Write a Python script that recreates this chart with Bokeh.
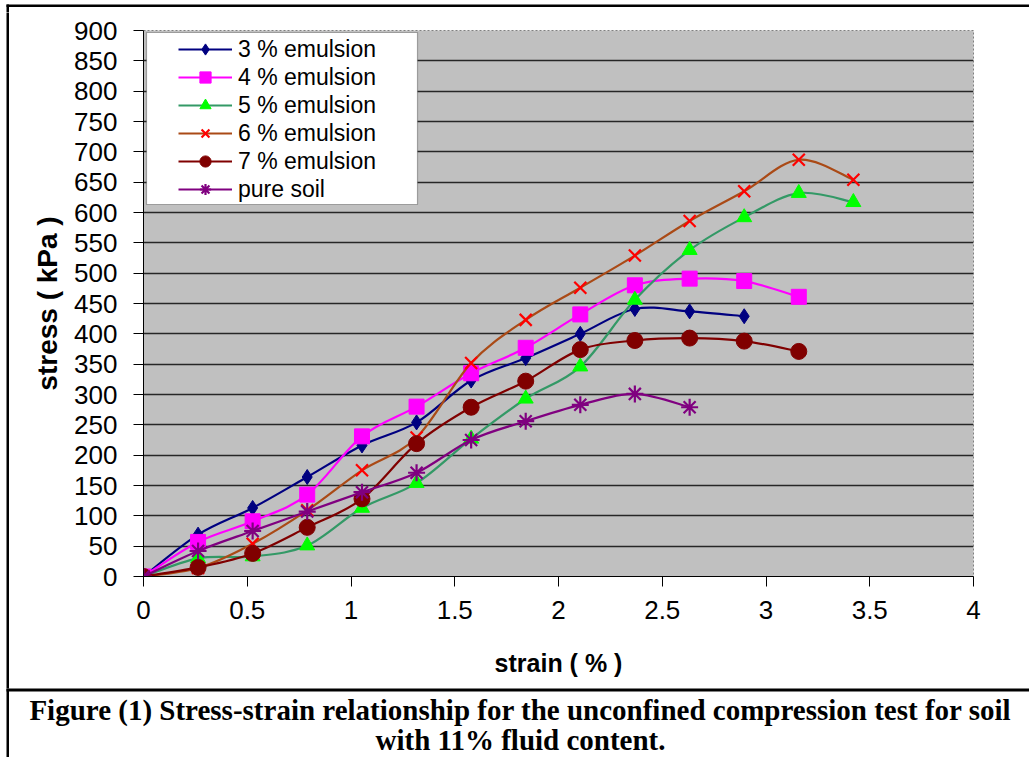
import numpy as np
from bokeh.plotting import figure
from bokeh.layouts import column, row
from bokeh.models import (Legend, LegendItem, BoxAnnotation, Label, FixedTicker,
                          ColumnDataSource)
from bokeh.embed import file_html
from bokeh.resources import INLINE

# ---------------- data ----------------
strain = [0, 0.263, 0.526, 0.789, 1.053, 1.316, 1.579, 1.842, 2.105, 2.368,
          2.632, 2.895, 3.158, 3.421]

emul3 = [0, 69, 113, 164, 216, 254, 323, 360, 400, 441, 437, 429]
emul4 = [0, 57, 91, 135, 231, 280, 335, 377, 432, 480, 491, 487, 461]
emul5 = [0, 30, 33, 51, 113, 154, 227, 293, 346, 456, 538, 592, 632, 617]
emul6 = [0, 14, 54, 109, 175, 229, 352, 423, 476, 529, 586, 635, 687, 654]
emul7 = [0, 15, 38, 81, 128, 219, 279, 322, 374, 389, 393, 388, 371]
pure_soil = [0, 42, 75, 107, 139, 171, 225, 256, 283, 301, 279]

series_names = ["3 % emulsion", "4 % emulsion", "5 % emulsion",
                "6 % emulsion", "7 % emulsion", "pure soil"]
series_values = [emul3, emul4, emul5, emul6, emul7, pure_soil]

x_ticks = [0, 0.5, 1, 1.5, 2, 2.5, 3, 3.5, 4]
x_tick_labels = ["0", "0.5", "1", "1.5", "2", "2.5", "3", "3.5", "4"]
y_ticks = list(range(0, 901, 50))

caption_lines = ["Figure (1) Stress-strain relationship for the unconfined compression test for soil",
                 "with 11% fluid content."]

# ---------------- styles ----------------
line_colors = ["#000080", "#FF00FF", "#339966", "#AA4A16", "#800000", "#800080"]
marker_fill = ["#000080", "#FF00FF", "#00FF00", "#FF0000", "#800000", "#800080"]
markers = ["diamond", "square", "triangle", "x", "circle", "asterisk"]
marker_sizes = [15, 15, 15, 17, 16, 17]

FONT = "Liberation Sans"


def blank_fig(w, h):
    f = figure(width=w, height=h, output_backend="svg", toolbar_location=None,
               x_axis_location=None, y_axis_location=None,
               min_border=0, min_border_left=0, min_border_right=0,
               min_border_top=0, min_border_bottom=0, frame_align=False)
    f.title.visible = False
    f.grid.visible = False
    f.outline_line_color = None
    f.background_fill_color = "white"
    f.border_fill_color = "white"
    return f


def black_box(left, right, bottom, top):
    return BoxAnnotation(left=left, right=right, bottom=bottom, top=top,
                         left_units="screen", right_units="screen",
                         top_units="screen", bottom_units="screen",
                         fill_color="black", fill_alpha=1, line_color=None)


TOP_H = 12
CAP_H = 69
CHART_H = 757 - TOP_H - CAP_H

# top border strip
top_fig = blank_fig(1029, TOP_H)
top_fig.add_layout(black_box(6, 1100, TOP_H - 6.5, TOP_H - 4))
top_fig.add_layout(black_box(6, 8.5, -1, TOP_H - 4))

# left border strip
left_fig = blank_fig(9, CHART_H)
left_fig.add_layout(black_box(6, 8.5, -1, CHART_H + 5))

# ---------------- main chart ----------------
p = figure(width=1020, height=CHART_H, x_range=(0, 4), y_range=(0, 900),
           output_backend="svg", toolbar_location=None, frame_align=False,
           min_border_left=134, min_border_right=56, min_border_top=30 - TOP_H,
           min_border_bottom=CHART_H - (30 - TOP_H) - 546)
p.title.visible = False
p.background_fill_color = "#C0C0C0"
p.border_fill_color = "white"
p.outline_line_color = "#808080"
p.outline_line_dash = "2 2"
p.outline_line_width = 1

p.xgrid.visible = False
p.ygrid.grid_line_color = "#262626"
p.ygrid.grid_line_width = 1.5
p.ygrid.ticker = FixedTicker(ticks=y_ticks)

p.xaxis.ticker = FixedTicker(ticks=x_ticks)
p.xaxis.major_label_overrides = {float(t): l for t, l in zip(x_ticks, x_tick_labels)}
p.yaxis.ticker = FixedTicker(ticks=y_ticks)

for ax in (p.xaxis[0], p.yaxis[0]):
    ax.axis_line_color = "black"
    ax.axis_line_width = 1
    ax.major_tick_in = 0
    ax.major_tick_out = 10
    ax.major_tick_line_color = "black"
    ax.minor_tick_line_color = None
    ax.major_label_text_font = FONT
    ax.major_label_text_font_size = "26px"
    ax.major_label_text_color = "black"
    ax.axis_label_text_font = FONT
    ax.axis_label_text_font_style = "bold"
    ax.axis_label_text_color = "black"

p.xaxis.axis_label_text_font_size = "25px"
p.yaxis.axis_label_text_font_size = "28px"
p.yaxis.major_label_standoff = 16
p.xaxis.major_label_standoff = 14
p.xaxis.axis_label = "strain ( % )"
p.yaxis.axis_label = "stress ( kPa )"
p.xaxis.axis_label_standoff = 27
p.yaxis.axis_label_standoff = 8


def bezier_parts(xs, ys):
    P = np.column_stack([xs, ys]).astype(float)
    n = len(P)
    out = {k: [] for k in ("x0", "y0", "x1", "y1", "cx0", "cy0", "cx1", "cy1")}
    for i in range(n - 1):
        p0 = P[i - 1] if i > 0 else P[i]
        p1 = P[i]
        p2 = P[i + 1]
        p3 = P[i + 2] if i + 2 < n else P[i + 1]
        c1 = p1 + (p2 - p0) / 6.0
        c2 = p2 - (p3 - p1) / 6.0
        out["x0"].append(p1[0]); out["y0"].append(p1[1])
        out["x1"].append(p2[0]); out["y1"].append(p2[1])
        out["cx0"].append(c1[0]); out["cy0"].append(c1[1])
        out["cx1"].append(c2[0]); out["cy1"].append(c2[1])
    return out


items = []
for name, vals, lc, mf, mk, ms in zip(series_names, series_values, line_colors,
                                      marker_fill, markers, marker_sizes):
    xs = strain[:len(vals)]
    bz = p.bezier(source=ColumnDataSource(bezier_parts(xs, vals)),
                  x0="x0", y0="y0", x1="x1", y1="y1",
                  cx0="cx0", cy0="cy0", cx1="cx1", cy1="cy1",
                  line_color=lc, line_width=2.2)
    if mk in ("x", "asterisk"):
        sc = p.scatter(xs, vals, marker=mk, size=ms, line_color=mf,
                       line_width=2.2, fill_color=None)
    else:
        sc = p.scatter(xs, vals, marker=mk, size=ms, fill_color=mf,
                       line_color=mf, line_width=1)
    items.append(LegendItem(label=name, renderers=[bz, sc]))

legend_box = BoxAnnotation(left=3, right=274, top=544, bottom=372,
                           left_units="screen", right_units="screen",
                           top_units="screen", bottom_units="screen",
                           fill_color="white", fill_alpha=1,
                           line_color="black", line_width=1.2)
p.add_layout(legend_box)

legend = Legend(items=items, location=(35, 373), orientation="vertical",
                padding=0, margin=0, spacing=0, glyph_width=54,
                glyph_height=28, label_height=28, label_standoff=6,
                label_text_font=FONT, label_text_font_size="23px",
                label_text_color="black", border_line_color=None,
                background_fill_alpha=0)
p.add_layout(legend, "center")

# ---------------- caption ----------------
cap_fig = blank_fig(1029, CAP_H)
cap_fig.add_layout(black_box(6, 1100, CAP_H - 3, CAP_H + 2))
cap_fig.add_layout(black_box(6, 8.5, -1, CAP_H + 2))
for txt, yy in zip(caption_lines, [48, 18]):
    cap_fig.add_layout(Label(x=520, y=yy, x_units="screen", y_units="screen",
                             text=txt, text_align="center", text_baseline="middle",
                             text_font="Liberation Serif", text_font_style="bold",
                             text_font_size="29px", text_color="black"))

layout = column(top_fig, row(left_fig, p, spacing=0), cap_fig, spacing=0)

open("out.html", "w").write(file_html(layout, INLINE))
